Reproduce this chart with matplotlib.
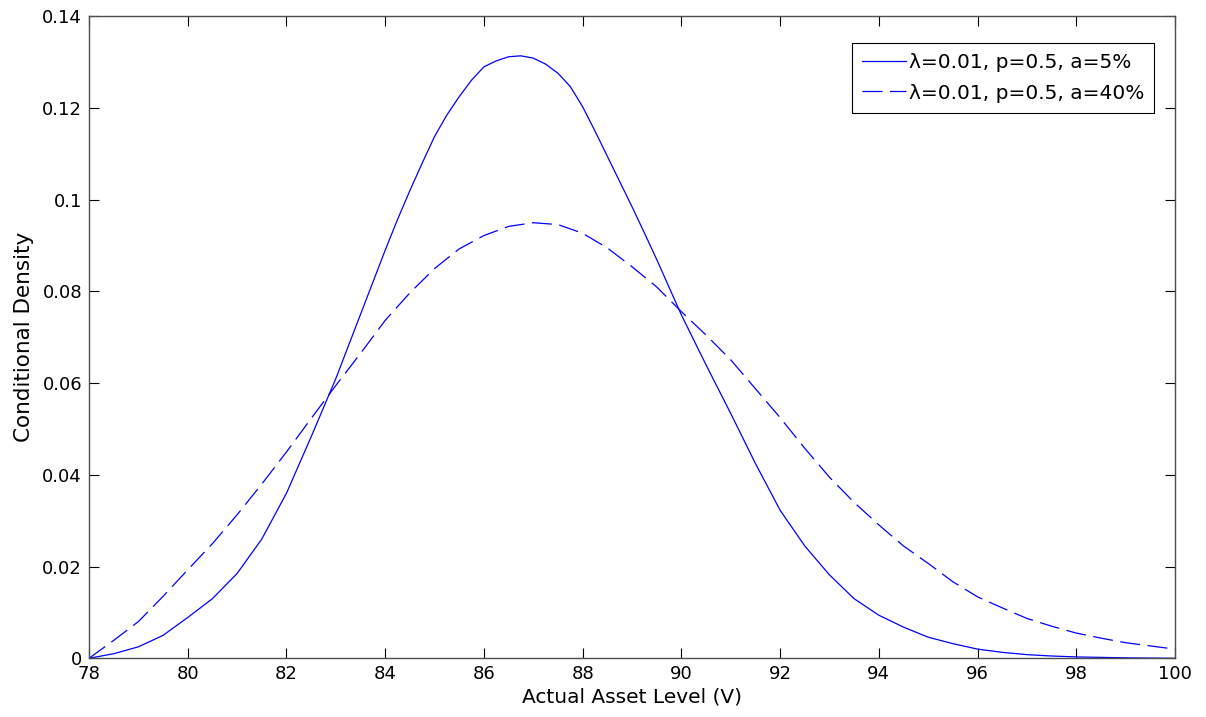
import matplotlib
matplotlib.use("Agg")
import matplotlib.pyplot as plt

plt.rcParams['font.family'] = ['DejaVu Sans']

# a = 5% series (solid)
level_a5 = [78.0, 78.5, 79.0, 79.5, 80.0, 80.5, 81.0, 81.5, 82.0, 82.5,
            83.0, 83.5, 84.0, 84.25, 84.5, 84.75, 85.0, 85.25, 85.5, 85.75,
            86.0, 86.25, 86.5, 86.75, 87.0, 87.25, 87.5, 87.75, 88.0, 88.25,
            88.5, 88.75, 89.0, 89.25, 89.5, 90.0, 90.5, 91.0, 91.5, 92.0,
            92.5, 93.0, 93.5, 94.0, 94.5, 95.0, 95.5, 96.0, 96.5, 97.0,
            97.5, 98.0, 98.5, 99.0, 99.5, 100.0]
density_a5 = [0.0, 0.0010, 0.0025, 0.0050, 0.0089, 0.0130, 0.0185, 0.0260, 0.0360, 0.0483,
              0.0610, 0.0750, 0.0890, 0.0957, 0.1020, 0.1080, 0.1138, 0.1185, 0.1225, 0.1261,
              0.1290, 0.1303, 0.1312, 0.1314, 0.1309, 0.1296, 0.1276, 0.1247, 0.1203, 0.1150,
              0.1095, 0.1040, 0.0985, 0.0928, 0.0870, 0.0749, 0.0640, 0.0534, 0.0425, 0.0323,
              0.0245, 0.0182, 0.0130, 0.0094, 0.0068, 0.0046, 0.0032, 0.0020, 0.0013, 0.0008,
              0.0005, 0.0003, 0.0002, 0.0001, 0.00005, 0.0]

# a = 40% series (dashed)
level_a40 = [78.0, 78.5, 79.0, 79.5, 80.0, 80.5, 81.0, 81.5, 82.0, 82.5,
             83.0, 83.5, 84.0, 84.5, 85.0, 85.5, 86.0, 86.5, 87.0, 87.5,
             88.0, 88.5, 89.0, 89.5, 90.0, 90.5, 91.0, 91.5, 92.0, 92.5,
             93.0, 93.5, 94.0, 94.5, 95.0, 95.5, 96.0, 96.5, 97.0, 97.5,
             98.0, 98.5, 99.0, 99.5, 100.0]
density_a40 = [0.0, 0.0039, 0.0080, 0.0135, 0.0193, 0.0250, 0.0313, 0.0380, 0.0450, 0.0523,
               0.0595, 0.0665, 0.0737, 0.0797, 0.0850, 0.0893, 0.0922, 0.0942, 0.0950, 0.0946,
               0.0927, 0.0895, 0.0854, 0.0810, 0.0756, 0.0705, 0.0651, 0.0588, 0.0525, 0.0458,
               0.0395, 0.0340, 0.0291, 0.0245, 0.0207, 0.0167, 0.0134, 0.0110, 0.0087, 0.0070,
               0.0055, 0.0044, 0.0034, 0.0027, 0.0020]

labels = ['\u03bb=0.01, p=0.5, a=5%', '\u03bb=0.01, p=0.5, a=40%']
x_ticks = [78, 80, 82, 84, 86, 88, 90, 92, 94, 96, 98, 100]
y_ticks = [0, 0.02, 0.04, 0.06, 0.08, 0.1, 0.12, 0.14]
y_ticklabels = ['0', '0.02', '0.04', '0.06', '0.08', '0.1', '0.12', '0.14']

fig = plt.figure(figsize=(12.06, 7.17), dpi=100)
ax = fig.add_axes([89/1206, 1 - 658.3/717, (1175-89)/1206, (658.3-16.4)/717])

blue = '#0000ff'
ax.plot(level_a5, density_a5, color=blue, lw=0.9, label=labels[0])
ax.plot(level_a40, density_a40, color=blue, lw=0.9, dashes=(16, 6), label=labels[1])

ax.set_xlim(78, 100)
ax.set_ylim(0, 0.14)
ax.set_xticks(x_ticks)
ax.set_xticklabels([str(t) for t in x_ticks])
ax.set_yticks(y_ticks)
ax.set_yticklabels(y_ticklabels)
ax.tick_params(direction='in', length=7, width=0.8, labelsize=13, top=True, right=True,
               color='black')
ax.tick_params(axis='x', pad=5)
ax.tick_params(axis='y', pad=5)
for s in ax.spines.values():
    s.set_color('0.3')
    s.set_linewidth(1.0)

ax.set_xlabel('Actual Asset Level (V)', fontsize=14.5, labelpad=3)
ax.set_ylabel('Conditional Density', fontsize=15.5, labelpad=6)

leg = ax.legend(loc='upper right', bbox_to_anchor=(0.981, 0.958), fontsize=14.5,
                frameon=True, fancybox=False, framealpha=1, edgecolor='black',
                handlelength=2.2, handletextpad=0.15, borderpad=0.5, labelspacing=0.55,
                borderaxespad=0)
leg.get_frame().set_linewidth(0.8)

fig.savefig('out.png', dpi=100)
